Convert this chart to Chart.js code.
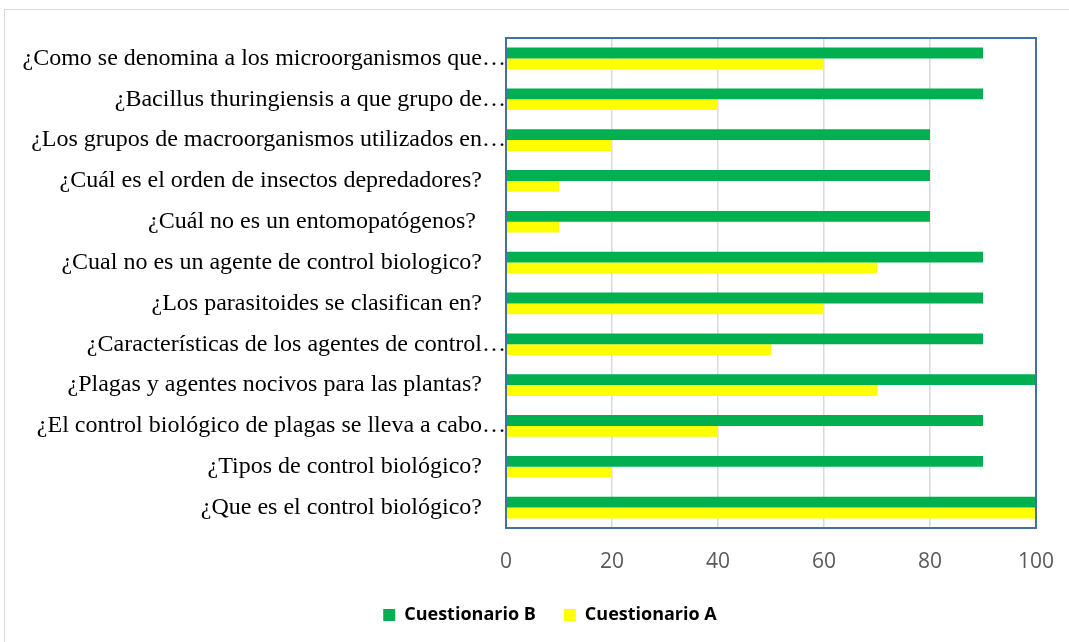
<!DOCTYPE html>
<html>
<head>
<meta charset="utf-8">
<script src="https://cdn.jsdelivr.net/npm/chart.js@4/dist/chart.umd.min.js"></script>
<style>
  html, body { margin: 0; padding: 0; background: #fff; overflow: hidden; }
  #frame { position: absolute; left: 4px; top: 9px; width: 1200px; height: 800px; border: 1.5px solid #d9d9d9; }
  #wrap { position: absolute; left: 0; top: 0; width: 1069px; height: 642px; }
</style>
</head>
<body>
<div id="frame"></div>
<div id="wrap"><canvas id="myChart" width="1069" height="642"></canvas></div>
<script>
// preguntas (de arriba hacia abajo)
let preguntas = [
    "¿Como se denomina a los microorganismos que…",
    "¿Bacillus thuringiensis a que grupo de…",
    "¿Los grupos de macroorganismos utilizados en…",
    "¿Cuál es el orden de insectos depredadores?",
    "¿Cuál no es un entomopatógenos? ",
    "¿Cual no es un agente de control biologico?",
    "¿Los parasitoides se clasifican en?",
    "¿Características de los agentes de control…",
    "¿Plagas y agentes nocivos para las plantas?",
    "¿El control biológico de plagas se lleva a cabo…",
    "¿Tipos de control biológico?",
    "¿Que es el control biológico?"
];

let cuestionarioB = [90, 90, 80, 80, 80, 90, 90, 90, 100, 90, 90, 100];
let cuestionarioA = [60, 40, 20, 10, 10, 70, 60, 50, 70, 40, 20, 100];

let escala = [0, 20, 40, 60, 80, 100];

// borde azul del area del grafico
let marcoPlugin = {
    id: "marco",
    afterDraw(chart) {
        let a = chart.chartArea;
        let ctx = chart.ctx;
        ctx.save();
        ctx.strokeStyle = "#41719c";
        ctx.lineWidth = 2;
        ctx.strokeRect(a.left, a.top, a.right - a.left, a.bottom - a.top);
        ctx.restore();
    }
};

let ctx1 = document.getElementById("myChart").getContext("2d");
let myChart = new Chart(ctx1, {
    type: "bar",
    data: {
        labels: preguntas,
        datasets: [
            {
                label: "Cuestionario B",
                data: cuestionarioB,
                backgroundColor: "#00b050",
                barPercentage: 1,
                categoryPercentage: 0.53
            },
            {
                label: "Cuestionario A",
                data: cuestionarioA,
                backgroundColor: "#ffff00",
                barPercentage: 1,
                categoryPercentage: 0.53
            }
        ]
    },
    options: {
        indexAxis: "y",
        responsive: false,
        animation: false,
        layout: {
            padding: { left: 64, right: 33, top: 38, bottom: 8 }
        },
        scales: {
            x: {
                min: 0,
                max: 100,
                afterBuildTicks: (s) => { s.ticks = escala.map(v => ({ value: v })); },
                afterFit: (s) => {
                    s.height = 50;
                    s.paddingLeft = 0;
                    s.paddingRight = 0;
                },
                grid: { color: "#d9d9d9", lineWidth: 1.5, drawTicks: false },
                border: { display: false },
                ticks: {
                    padding: 21,
                    color: "#595959",
                    font: { family: "Open Sans", size: 21 }
                }
            },
            y: {
                grid: { display: false, drawTicks: false },
                border: { display: false },
                afterFit: (s) => {
                    s.width = 506 - 64;
                    // las etiquetas largas salen por la izquierda, sin recortar
                    s._computeLabelArea = () => undefined;
                },
                ticks: {
                    padding: 0,
                    color: "#000",
                    autoSkip: false,
                    font: { family: "Liberation Serif", size: 24 },
                    callback: function (v, i) {
                        let t = preguntas[i];
                        return t.endsWith("…") ? t : t + "    ";
                    }
                }
            }
        },
        plugins: {
            legend: {
                position: "bottom",
                labels: {
                    boxWidth: 12,
                    boxHeight: 12,
                    padding: 28,
                    color: "#000",
                    font: { family: "Open Sans", size: 18, weight: "bold" }
                }
            },
            tooltip: { enabled: false }
        }
    },
    plugins: [marcoPlugin]
});
</script>
</body>
</html>
